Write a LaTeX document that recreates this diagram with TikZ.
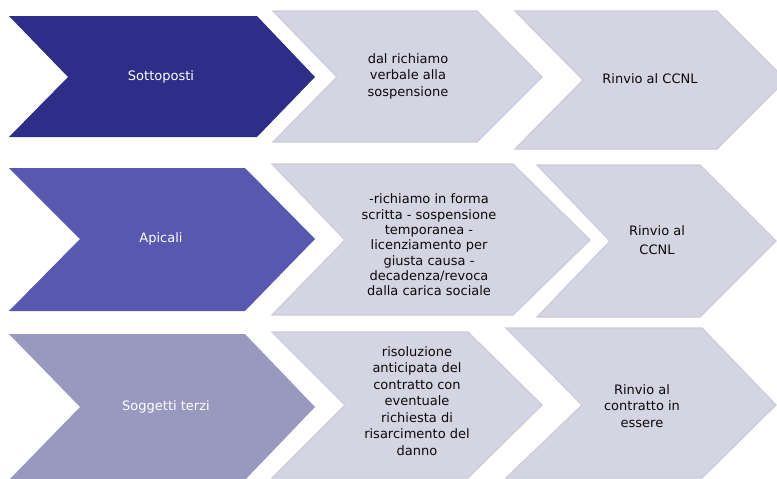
\documentclass[tikz,border=0pt]{standalone}
\usepackage{fontspec}
\setmainfont{DejaVu Sans}
\definecolor{cNavy}{RGB}{46,46,136}
\definecolor{cMid}{RGB}{88,88,176}
\definecolor{cPale}{RGB}{153,153,192}
\definecolor{cGrey}{RGB}{212,212,226}
\definecolor{cGreyLine}{RGB}{203,203,219}
\definecolor{cText}{RGB}{10,10,10}
\tikzset{
  greyfill/.style={fill=cGrey,draw=cGreyLine,line width=1.2pt,line join=miter},
  lbl/.style={align=center,font=\fontsize{13}{16.5}\selectfont,text=cText,inner sep=0pt},
  tightlbl/.style={lbl,font=\fontsize{13}{15.3}\selectfont},
  widelbl/.style={lbl,font=\fontsize{13}{19}\selectfont},
  whitelbl/.style={align=center,font=\fontsize{13}{16}\selectfont,text=white,inner sep=0pt}
}
\newcommand{\chev}[8]{% style, L, T, B, N, R, P, M
  \path[#1] (#2,#3) -- (#6,#3) -- (#7,#8) -- (#6,#4) -- (#2,#4) -- (#5,#8) -- cycle;}
\begin{document}
\begin{tikzpicture}[x=1pt,y=-1pt]
\useasboundingbox (0,0) rectangle (777,479);
\clip (0,0) rectangle (777,479);
% row 1
\chev{fill=cNavy}{9}{16}{137}{68}{257}{315}{77}
\chev{greyfill}{273}{11}{142}{337}{477}{542}{77}
\chev{greyfill}{515}{11}{149}{583}{717}{786}{80}
% row 2
\chev{fill=cMid}{9}{168}{311}{80}{245}{315}{239}
\chev{greyfill}{272}{164}{315}{345}{513}{590}{240}
\chev{greyfill}{537}{165}{317}{610}{700}{776}{241}
% row 3
\chev{fill=cPale}{9}{334}{480}{80}{245}{315}{407}
\chev{greyfill}{272}{332}{478}{345}{468}{542}{405}
\chev{greyfill}{506}{328}{478}{582}{702}{776}{405}
% labels
\node[whitelbl] (a1) at (161,77) {Sottoposti};
\node[lbl] (b1) at (408,76) {dal richiamo\\verbale alla\\sospensione};
\node[lbl] (c1) at (650,79) {Rinvio al CCNL};
\node[whitelbl] (a2) at (161,239) {Apicali};
\node[tightlbl] (b2) at (429,245) {-richiamo in forma\\scritta - sospensione\\temporanea -\\licenziamento per\\giusta causa -\\decadenza/revoca\\dalla carica sociale};
\node[widelbl] (c2) at (657,240) {Rinvio al\\CCNL};
\node[whitelbl] (a3) at (166,407) {Soggetti terzi};
\node[lbl] (b3) at (417,401) {risoluzione\\anticipata del\\contratto con\\eventuale\\richiesta di\\risarcimento del\\danno};
\node[lbl] (c3) at (642,406) {Rinvio al\\contratto in\\essere};
\end{tikzpicture}
\end{document}
